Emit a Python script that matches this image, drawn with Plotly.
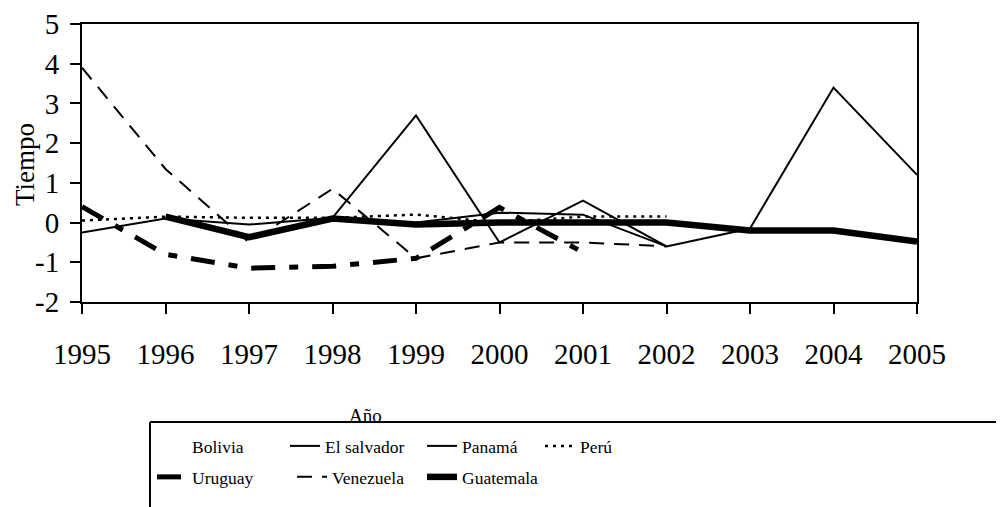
import plotly.graph_objects as go

years = list(range(1995, 2006))
bolivia = [-0.6, None, None, None, None, None, None, None, None, None, None]
el_salvador = [None, None, None, None, 0.0, 0.25, 0.2, -0.6, None, None, None]
panama = [-0.25, 0.1, -0.05, 0.12, 2.7, -0.5, 0.55, -0.6, -0.15, 3.4, 1.2]
peru = [0.05, 0.15, 0.12, 0.12, 0.2, 0.0, 0.15, 0.15, None, None, None]
uruguay = [0.4, -0.8, -1.15, -1.1, -0.9, 0.38, -0.75, None, None, None, None]
venezuela = [3.9, 1.35, -0.5, 0.85, -0.9, -0.5, -0.5, -0.6, None, None, None]
guatemala = [None, 0.15, -0.37, 0.1, -0.05, 0.0, 0.0, 0.0, -0.2, -0.2, -0.48]

y_ticks = [5, 4, 3, 2, 1, 0, -1, -2]
y_ticktext = ["5", "4", "3", "2", "1", "0", "-1", "-2"]

FONT = "Liberation Serif, Times New Roman, serif"

series = [
    ("Bolivia", bolivia, dict(color="white", width=2), "legend", 88),
    ("El salvador", el_salvador, dict(color="black", width=2), "legend", 92),
    ("Panamá", panama, dict(color="black", width=2), "legend", 73),
    ("Perú", peru, dict(color="black", width=2.5, dash="3px,5px"), "legend", None),
    ("Uruguay", uruguay, dict(color="black", width=5, dash="24px,14px,9px,14px"), "legend2", 95),
    ("Venezuela", venezuela, dict(color="black", width=2, dash="15px,10px"), "legend2", 85),
    ("Guatemala", guatemala, dict(color="black", width=6.5), "legend2", None),
]

fig = go.Figure()
for name, vals, line, leg, lw in series:
    kw = dict(x=years, y=vals, name=name, mode="lines", line=line, legend=leg,
              connectgaps=False, hoverinfo="skip")
    if lw is not None:
        kw["legendwidth"] = lw
    fig.add_trace(go.Scatter(**kw))

legend_common = dict(orientation="h", xref="container", yref="container",
                     xanchor="left", yanchor="top",
                     font=dict(family=FONT, size=17.5, color="black"),
                     bgcolor="rgba(0,0,0,0)", borderwidth=0,
                     itemwidth=30, traceorder="normal", itemclick=False)

fig.update_layout(
    width=996, height=499,
    margin=dict(l=74, r=87, t=16, b=205, autoexpand=False),
    paper_bgcolor="white", plot_bgcolor="white",
    font=dict(family=FONT, color="black"),
    showlegend=True,
    legend=dict(x=0.1446, y=0.1583, **legend_common),
    legend2=dict(x=0.1446, y=0.0962, **legend_common),
    xaxis=dict(range=[1995, 2005], tickvals=years, ticks="outside", ticklen=10,
               tickwidth=2, tickcolor="black", showline=True, linecolor="black",
               linewidth=2, mirror=True, showgrid=False, zeroline=False,
               tickfont=dict(family=FONT, size=29, color="black"),
               ticklabelstandoff=15),
    yaxis=dict(range=[-2, 5], tickvals=y_ticks, ticktext=y_ticktext, ticks="outside",
               ticklen=10, tickwidth=2, tickcolor="black", showline=True,
               linecolor="black", linewidth=2, mirror=True, showgrid=False,
               zeroline=False, tickfont=dict(family=FONT, size=29, color="black"),
               ticklabelstandoff=5),
    annotations=[
        dict(text="Tiempo", xref="paper", yref="paper", x=-0.0683, y=0.496,
             textangle=-90, showarrow=False, xanchor="center", yanchor="middle",
             font=dict(family=FONT, size=27, color="black")),
        dict(text="Año", xref="paper", yref="paper", x=0.340, y=-0.41,
             showarrow=False, xanchor="center", yanchor="middle",
             font=dict(family=FONT, size=19, color="black")),
    ],
    shapes=[
        dict(type="line", xref="paper", yref="paper", x0=0.08144, x1=1.12,
             y0=-0.4317, y1=-0.4317, line=dict(color="black", width=2)),
        dict(type="line", xref="paper", yref="paper", x0=0.08144, x1=0.08144,
             y0=-0.4317, y1=-0.75, line=dict(color="black", width=2)),
    ],
)

fig.write_html("out.html")
